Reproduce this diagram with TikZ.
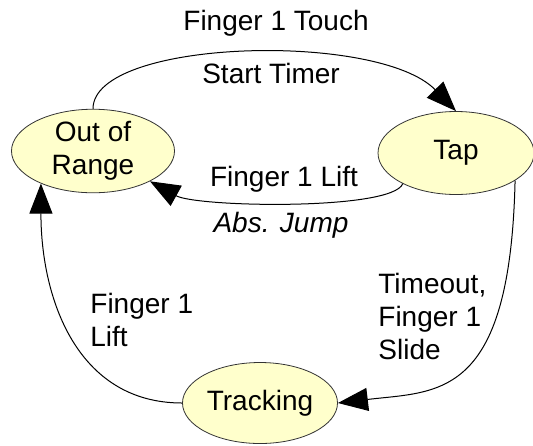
\documentclass[tikz,border=0pt]{standalone}
\usepackage{fontspec}
\setmainfont{Liberation Sans}
\usetikzlibrary{arrows.meta,shapes.geometric}
\definecolor{statefill}{HTML}{FFFFCC}
\tikzset{
  state/.style={ellipse, draw=black!80, fill=statefill, inner sep=0pt, align=center,
    font=\fontsize{14}{16.5}\selectfont},
  lbl/.style={inner sep=0pt, font=\fontsize{14}{16.5}\selectfont},
  trans/.style={-{Triangle[length=15pt,width=11.5pt]}, line width=0.5pt}
}
\begin{document}
\begin{tikzpicture}[x=0.5pt,y=-0.5pt]
  \useasboundingbox (0,0) rectangle (533,445);
  % states
  \node[state, minimum width=81.5pt, minimum height=41.5pt] (oor) at (93,151) {Out of\\Range};
  \node[state, minimum width=78pt, minimum height=41.5pt] (tap) at (456,153) {Tap};
  \node[state, minimum width=77.5pt, minimum height=40.5pt] (track) at (260,403) {Tracking};
  % transitions
  \draw[trans] (oor.north) .. controls +(0,-70) and +(-78,-80) .. (tap.north);
  \draw[trans] (tap.210) .. controls +(-11,27) and +(47,26) .. (oor.-28);
  \draw[trans] (tap.-25) .. controls +(-5,220) and +(100,-12) .. (track.east);
  \draw[trans] (track.west) .. controls +(-105,0) and +(0,115) .. (oor.212);
  % labels
  \node[lbl, anchor=base] (touch) at (276,30) {Finger 1 Touch};
  \node[lbl, anchor=base] (timer) at (271,83) {Start Timer};
  \node[lbl, anchor=base] (lift) at (284,186) {Finger 1 Lift};
  \node[lbl, anchor=base, font=\fontsize{14}{16.5}\selectfont\itshape] (jump) at (281,232) {Abs. Jump};
  \node[lbl, align=left, anchor=north west] (slide) at (378,273) {Timeout,\\Finger 1\\Slide};
  \node[lbl, align=left, anchor=north west] (flift) at (90,293) {Finger 1\\Lift};
\end{tikzpicture}
\end{document}
